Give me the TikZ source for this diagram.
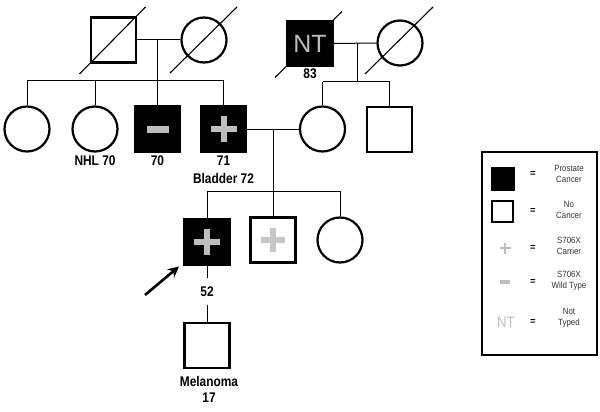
\documentclass[tikz,border=0pt]{standalone}
\usepackage{fontspec}
\setmainfont{Liberation Sans}
\newfontfamily\narrowf[FakeStretch=0.85]{Liberation Sans}
\newfontfamily\legf[FakeStretch=0.88]{Liberation Sans}
\usetikzlibrary{arrows.meta,calc}
\definecolor{sgray}{HTML}{BDBDBD}
\definecolor{lgray}{HTML}{C8C8C8}
\definecolor{ltext}{HTML}{333333}
\tikzset{
  ind/.style={draw, line width=2.2pt, inner sep=0pt, fill=white},
  male/.style={ind, rectangle, minimum width=45pt, minimum height=45pt},
  female/.style={ind, circle, minimum size=45pt},
  aff/.style={fill=black},
  conn/.style={line width=1pt},
  slash/.style={line width=1.1pt},
  lbl/.style={font=\narrowf\bfseries\fontsize{14}{16}\selectfont, inner sep=0pt, align=center},
  plussym/.style n args={3}{path picture={
     \fill[#1] ([xshift=-#2,yshift=-#3]path picture bounding box.center) rectangle ([xshift=#2,yshift=#3]path picture bounding box.center);
     \fill[#1] ([xshift=-#3,yshift=-#2]path picture bounding box.center) rectangle ([xshift=#3,yshift=#2]path picture bounding box.center);}},
  minussym/.style n args={3}{path picture={
     \fill[#1] ([xshift=-#2,yshift=-#3]path picture bounding box.center) rectangle ([xshift=#2,yshift=#3]path picture bounding box.center);}},
  legtext/.style={font=\legf\fontsize{9}{11.5}\selectfont, text=ltext, align=center, inner sep=0pt},
  eqs/.style={font=\bfseries\fontsize{9.5}{10}\selectfont, inner sep=0pt},
}
\begin{document}
\begin{tikzpicture}[x=1pt,y=-1pt]
\useasboundingbox (0,0) rectangle (600,412);
% generation I
\node[male] (gf) at (113.5,40) {};
\node[female] (gm) at (204,40) {};
\coordinate (ngfc) at (310,43.5);
\draw[slash] ($(ngfc)+(-35,34)$) -- ($(ngfc)+(32,-32)$);
\node[male, aff, text=sgray, font=\fontsize{25}{25}\selectfont] (ngf) at (ngfc) {NT};
\node[female] (ngm) at (400,43) {};
\draw[slash] ($(gf.center)+(-34,34)$) -- ($(gf.center)+(32,-33)$);
\draw[slash] ($(gm.center)+(-34,33)$) -- ($(gm.center)+(33,-33)$);
\draw[slash] ($(ngm.center)+(-35,31)$) -- ($(ngm.center)+(33,-36)$);
\node[lbl] (l83) at (310,74) {83};
% generation II
\node[female] (c1) at (27,129) {};
\node[female] (c2) at (95,129) {};
\node[male, aff, minussym={sgray}{11pt}{3.5pt}] (c3) at (157.5,129) {};
\node[male, aff, plussym={sgray}{13pt}{3pt}] (c4) at (223.5,129) {};
\node[female] (c5) at (322.5,129) {};
\node[male] (c6) at (389.5,129.5) {};
\node[lbl] (lnhl) at (95,161) {NHL 70};
\node[lbl] (l70) at (157.5,161) {70};
\node[lbl] (l71) at (223.5,161) {71};
\node[lbl] (lbl72) at (223.5,178) {Bladder 72};
% generation III
\node[male, aff, plussym={sgray}{13pt}{3pt}] (pb) at (207,242) {};
\node[male, plussym={lgray}{12pt}{2.6pt}] (g2) at (273,240) {};
\node[female] (g3) at (340,240) {};
\node[lbl, minimum height=26pt] (l52) at (207,291.5) {52};
% generation IV
\node[male] (mel) at (207,345.5) {};
\node[lbl] (lmel) at (209,389) {Melanoma\\17};
% connectors
\coordinate (m1) at (157.5,40);
\coordinate (s1) at (157.5,81);
\draw[conn] (gf.east) -- (gm.west);
\draw[conn] (m1) -- (c3.north);
\draw[conn] (c1.north |- s1) -- (c4.north |- s1);
\draw[conn] (c1.north) -- (c1.north |- s1);
\draw[conn] (c2.north) -- (c2.north |- s1);
\draw[conn] (c4.north) -- (c4.north |- s1);
\coordinate (m2) at (357,43);
\coordinate (s2) at (357,82);
\draw[conn] (ngf.east) -- (ngm.west);
\draw[conn] (m2) -- (s2);
\draw[conn] (c5.north |- s2) -- (c6.north |- s2);
\draw[conn] (c5.north) -- (c5.north |- s2);
\draw[conn] (c6.north) -- (c6.north |- s2);
\coordinate (m3) at (273,129);
\coordinate (s3) at (273,191);
\draw[conn] (c4.east) -- (c5.west);
\draw[conn] (m3) -- (g2.north);
\draw[conn] (pb.north |- s3) -- (g3.north |- s3);
\draw[conn] (pb.north) -- (pb.north |- s3);
\draw[conn] (g3.north) -- (g3.north |- s3);
\draw[conn] (pb.south) -- (l52.north);
\draw[conn] (l52.south) -- (mel.north);
% proband arrow
\coordinate (atail) at (145,295);
\coordinate (atip) at (179,266.5);
\draw[line width=2.6pt, -{Stealth[length=11pt,width=11pt]}] (atail) -- (atip);
% legend
\node[draw, line width=2pt, minimum width=115pt, minimum height=203pt, inner sep=0pt] (legend) at (539.5,253.5) {};
\node[fill=black, minimum size=24pt, inner sep=0pt] (k1) at (502.5,179) {};
\node[draw, line width=2pt, minimum size=21pt, inner sep=0pt] (k2) at (502.5,211.5) {};
\node[minimum size=12pt, inner sep=0pt, plussym={sgray}{5.5pt}{1.3pt}] (k3) at (505,248) {};
\node[minimum size=12pt, inner sep=0pt, minussym={sgray}{5pt}{1.6pt}] (k4) at (505,282) {};
\node[text=sgray, font=\legf\fontsize{15}{15}\selectfont, inner sep=0pt] (k5) at (506,322) {NT};
\node[eqs] (e1) at (533,174) {=};
\node[eqs] (e2) at (533,211) {=};
\node[eqs] (e3) at (533,248) {=};
\node[eqs] (e4) at (533,282) {=};
\node[eqs] (e5) at (533,322) {=};
\node[legtext] (t1) at (569,174) {Prostate\\Cancer};
\node[legtext] (t2) at (569,210) {No\\Cancer};
\node[legtext] (t3) at (569,246) {S706X\\Carrier};
\node[legtext] (t4) at (569,281) {S706X\\Wild Type};
\node[legtext] (t5) at (569,318) {Not\\Typed};
\end{tikzpicture}
\end{document}
